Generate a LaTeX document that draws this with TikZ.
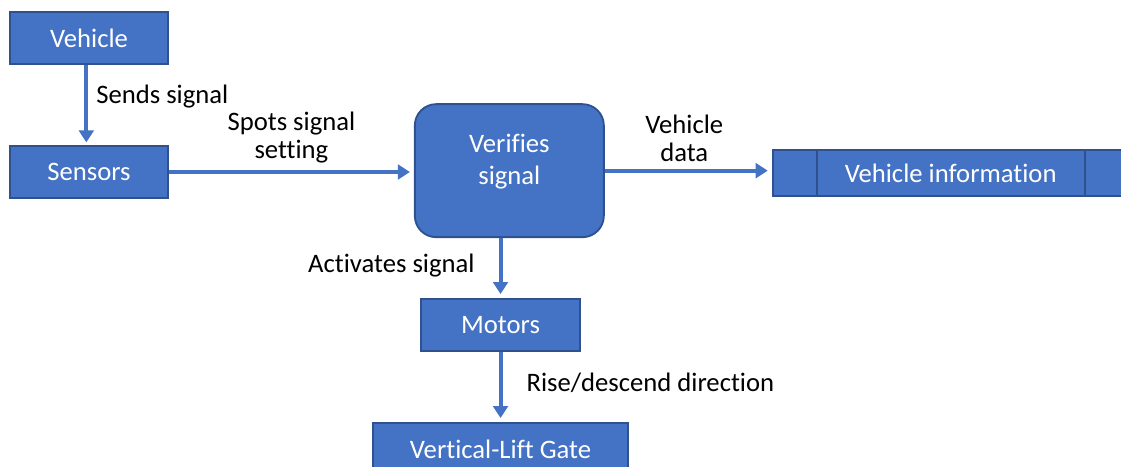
\documentclass[tikz,border=0pt]{standalone}
\usepackage{fontspec}
\setmainfont{Carlito}[Ligatures=CommonOff]
\usetikzlibrary{arrows.meta, positioning}

\definecolor{boxblue}{HTML}{4472C4}
\definecolor{boxline}{HTML}{2F528F}

\tikzset{
  proc/.style={draw=boxline, line width=1.4pt, fill=boxblue, text=white,
    minimum width=118.5pt, minimum height=39pt, inner sep=0pt},
  flow/.style={->, boxblue, line width=3pt},
  lbl/.style={black, align=center, inner sep=2pt}
}

\begin{document}
\begin{tikzpicture}[>={Triangle[width=11pt,length=9pt]}, node distance=100pt, on grid,
    font=\fontsize{20}{21.5}\selectfont]
        \useasboundingbox (0,0) rectangle (840.75pt,-350.25pt);
        \begin{scope}
        \clip (0,0) rectangle (840.75pt,-350.25pt);
        \node[proc] (veh) at (66.75pt,-28.5pt) {Vehicle};
        \node[proc] (sens) [below=100.5pt of veh] {Sensors};
        \node[proc, rounded corners=16pt, minimum width=141.75pt, minimum height=99.75pt,
          align=center] (verify) [right=315.25pt of sens, yshift=1pt] {Verifies\\[2.5pt]signal\\[-4pt]};
        \node[proc, minimum width=267pt, minimum height=34.5pt] (info)
          [right=331pt of verify, yshift=-1.75pt] {Vehicle information};
        \draw[boxline, line width=1.4pt] ([xshift=33.75pt]info.north west) -- ([xshift=33.75pt]info.south west);
        \draw[boxline, line width=1.4pt] ([xshift=-33.75pt]info.north east) -- ([xshift=-33.75pt]info.south east);
        \node[proc, minimum width=119.25pt] (motors) [below=115.75pt of verify, xshift=-6.6pt] {Motors};
        \node[proc, minimum width=191.25pt] (gate) [below=93pt of motors] {Vertical-Lift Gate};
        \end{scope}
        \path[flow, shorten >=2pt]
        ([xshift=-2pt]veh.south) edge node[lbl, right=4pt, pos=0.4, anchor=west] {Sends signal} ([xshift=-2pt]sens.north)
        ;
        \path[flow, shorten >=3pt]
        (sens.east) edge node[lbl, above=3pt, midway, anchor=south] {Spots signal\\setting} (verify.west |- sens.east)
        (verify.east) edge node[lbl, above=3pt, midway, anchor=south, xshift=-3pt] {Vehicle\\data} (info.west |- verify.east)
        (verify.south -| motors) edge node[lbl, left=16pt, midway, anchor=east, yshift=2pt] {Activates signal} (motors.north)
        (motors.south) edge node[lbl, right=16pt, midway, anchor=west, yshift=3pt] {Rise/descend direction} (gate.north)
        ;
    \end{tikzpicture}
\end{document}
